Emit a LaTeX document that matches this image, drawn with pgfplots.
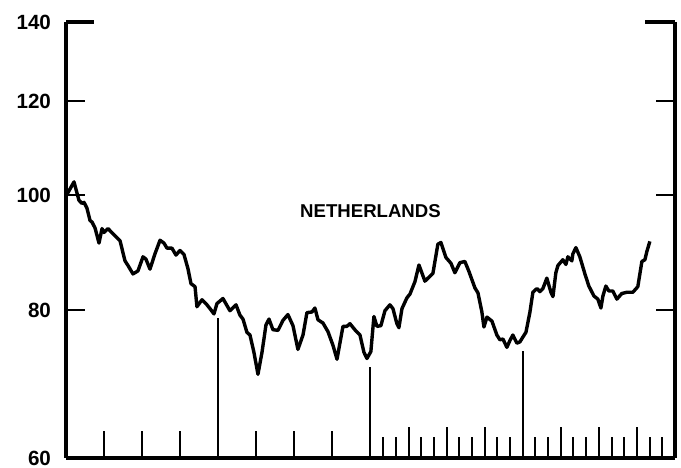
\documentclass[border=0pt]{standalone}
\usepackage{pgfplots}
\pgfplotsset{compat=1.18}
\usepackage{fontspec}
\setmainfont{Liberation Sans}
\newcommand{\tk}[2]{\draw[line width=1pt] (axis cs:#1,60) -- ([yshift=#2]axis cs:#1,60);}
\begin{document}
\begin{tikzpicture}
\useasboundingbox (0,0) rectangle (340.5pt,233.5pt);
\begin{axis}[
  at={(33pt,4.5pt)}, anchor=south west,
  scale only axis, width=304.5pt, height=218pt,
  xmin=0, xmax=48, ymin=60, ymax=140, ymode=log,
  axis x line=bottom, axis y line=box,
  axis line style={-, line width=1.6pt},
  every outer x axis line/.append style={-},
  every outer y axis line/.append style={-},
  xtick=\empty,
  ytick={60,80,100,120,140},
  yticklabels={60,80,100,120,140},
  yticklabel pos=left,
  tick align=inside,
  major tick length=9.5pt,
  tick style={line width=1.2pt, black},
  yticklabel style={font=\fontsize{10.3}{12}\selectfont\bfseries, xshift=-4pt},
  /pgf/number format/assume math mode=true,
  clip=false,
]
\addplot[black, line width=1.7pt, line join=round, no marks] table {
x y
0.00 99.8
0.63 102.6
1.02 99.0
1.26 98.4
1.42 98.6
1.65 97.5
1.89 95.2
2.05 94.9
2.29 93.8
2.60 91.1
2.84 93.7
2.99 93.0
3.31 93.7
3.86 92.4
4.26 91.5
4.65 88.0
4.89 87.2
5.28 85.8
5.67 86.3
6.07 88.7
6.30 88.3
6.62 86.6
7.01 89.2
7.41 91.6
7.72 91.1
7.96 90.2
8.35 90.2
8.67 89.0
8.98 89.8
9.30 89.1
9.61 86.7
9.85 84.2
10.17 83.7
10.32 80.5
10.72 81.6
11.11 80.8
11.35 80.2
11.66 79.4
11.90 81.0
12.14 81.4
12.37 81.8
12.92 79.9
13.40 80.8
13.71 79.2
13.95 78.6
14.26 76.6
14.50 76.2
14.81 73.7
15.13 70.6
15.45 73.7
15.76 77.7
16.00 78.6
16.31 77.0
16.71 76.9
17.10 78.4
17.49 79.3
17.89 77.6
18.28 74.1
18.68 76.2
18.99 79.6
19.39 79.7
19.62 80.3
19.86 78.5
20.25 78.0
20.65 76.7
21.04 74.7
21.36 72.7
21.83 77.5
22.14 77.5
22.38 77.9
22.85 76.8
23.17 76.2
23.48 73.7
23.72 72.8
24.03 73.8
24.27 79.0
24.51 77.5
24.82 77.6
25.14 79.9
25.53 80.8
25.77 80.2
26.08 77.9
26.24 77.3
26.48 80.2
26.87 81.9
27.11 82.5
27.50 84.5
27.82 87.3
28.29 84.6
28.92 85.9
29.31 90.9
29.55 91.2
29.94 88.6
30.34 87.6
30.65 86.0
31.05 87.7
31.44 87.9
31.76 86.2
32.23 83.5
32.47 82.7
32.78 79.7
32.94 77.4
33.18 78.9
33.57 78.3
33.96 76.2
34.20 75.5
34.44 75.6
34.75 74.4
34.99 75.4
35.22 76.2
35.54 75.0
35.78 75.2
36.01 75.9
36.25 76.6
36.56 79.6
36.80 82.8
37.12 83.4
37.35 82.9
37.59 83.4
37.90 85.1
38.22 82.8
38.38 82.1
38.61 86.0
38.77 87.2
39.16 88.2
39.40 87.4
39.56 88.7
39.87 88.0
39.95 89.2
40.19 90.3
40.50 88.7
40.90 85.8
41.21 83.8
41.61 82.2
41.92 81.7
42.16 80.3
42.32 82.2
42.55 83.8
42.79 83.0
43.10 83.0
43.42 81.7
43.81 82.6
44.21 82.8
44.68 82.8
45.07 83.7
45.39 87.9
45.63 88.2
45.78 89.6
46.02 91.4
};
\draw[line width=1.6pt] (axis cs:0,140) -- ([xshift=14pt]axis cs:0,140);
\draw[line width=1.6pt] (axis cs:48,140) -- ([xshift=-15pt]axis cs:48,140);
\tk{3}{13.5pt}\tk{6}{13.5pt}\tk{9}{13.5pt}\tk{12}{70pt}
\tk{15}{13.5pt}\tk{18}{13.5pt}\tk{21}{13.5pt}\tk{24}{45.5pt}
\tk{25}{10.5pt}\tk{26}{10.5pt}\tk{27}{15.5pt}\tk{28}{10.5pt}\tk{29}{10.5pt}\tk{30}{15.5pt}
\tk{31}{10.5pt}\tk{32}{10.5pt}\tk{33}{15.5pt}\tk{34}{10.5pt}\tk{35}{10.5pt}\tk{36}{53.5pt}
\tk{37}{10.5pt}\tk{38}{10.5pt}\tk{39}{15.5pt}\tk{40}{10.5pt}\tk{41}{10.5pt}\tk{42}{15.5pt}
\tk{43}{10.5pt}\tk{44}{10.5pt}\tk{45}{15.5pt}\tk{46}{10.5pt}\tk{47}{10.5pt}
\node[font=\fontsize{9.3}{11}\selectfont\bfseries] at (axis cs:24,97) {NETHERLANDS};
\end{axis}
\end{tikzpicture}
\end{document}
